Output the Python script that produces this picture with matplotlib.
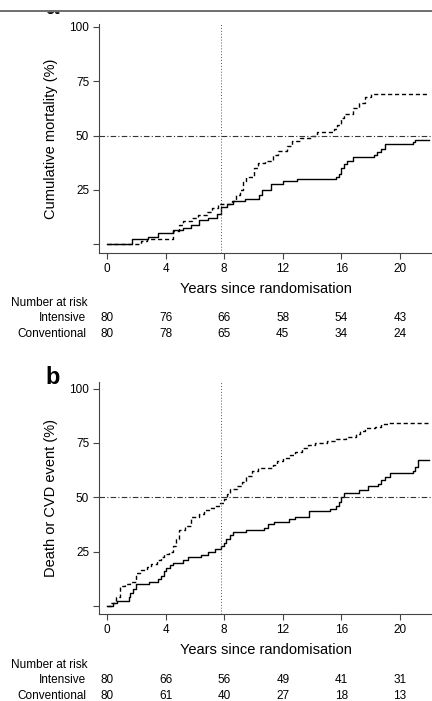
import matplotlib.pyplot as plt

plt.rcParams['font.family'] = ['Liberation Sans', 'DejaVu Sans']

# Panel a: cumulative mortality
a_int_t = [0, 1.7, 2.8, 3.5, 4.5, 5.2, 5.7, 6.3, 6.9, 7.5, 7.8, 8.2, 8.6, 9.4, 10.4, 10.6, 11.2, 12.0, 13.0,
           15.6, 15.8, 16.0, 16.2, 16.4, 16.8, 18.2, 18.4, 18.7, 19.0, 20.9, 21.0, 22.0]
a_int_y = [0, 2.5, 3.5, 5, 6.5, 7.5, 8.8, 11, 12, 14, 17, 18.5, 20, 21, 22.5, 25, 27.5, 29, 30,
           31, 32.5, 35, 37, 38.5, 40, 41, 42.5, 44, 46, 47, 48, 48]
a_con_t = [0, 2.3, 2.7, 4.5, 4.9, 5.2, 5.8, 6.2, 6.8, 7.2, 7.6, 8.5, 8.8, 9.1, 9.3, 9.5, 10.0, 10.3, 10.8,
           11.3, 11.7, 12.3, 12.6, 13.2, 14.0, 14.3, 15.5, 15.7, 16.0, 16.2, 16.8, 17.2, 17.6, 18.0, 21.9]
a_con_y = [0, 1.5, 2.5, 6, 9, 10.5, 12, 13.5, 15, 16.5, 18.5, 20, 22.5, 25, 28.5, 31, 35, 37.5, 38.5,
           41, 43, 45, 47.5, 49, 50, 51.5, 53, 55, 58, 60, 62.5, 65, 67.5, 69, 69]

# Panel b: death or CVD event
b_int_t = [0, 0.4, 0.7, 1.5, 1.6, 1.8, 2.0, 2.9, 3.5, 3.7, 3.9, 4.0, 4.3, 4.5, 5.2, 5.5, 6.4, 6.9, 7.4, 7.8,
           8.0, 8.1, 8.4, 8.6, 9.5, 10.7, 11.0, 11.4, 12.4, 12.8, 13.8, 15.2, 15.6, 15.8, 16.0, 16.2, 17.2,
           17.8, 18.5, 18.7, 19.0, 19.3, 20.9, 21.0, 21.2, 22.0]
b_int_y = [0, 1.5, 2.5, 4, 6, 8, 10, 11, 12.5, 14, 16, 17.5, 19, 20, 21, 22.5, 23.5, 25, 26, 27.5,
           29, 31, 32.5, 34, 35, 36, 37.5, 38.5, 40, 41, 43.5, 44.5, 46, 48, 50, 52, 53.5,
           55, 56, 58, 59.5, 61, 62, 64, 67, 67]
b_con_t = [0, 0.3, 0.6, 0.9, 1.2, 1.6, 2.0, 2.3, 2.7, 3.0, 3.4, 3.7, 3.9, 4.2, 4.5, 4.7, 4.9, 5.3, 5.7,
           6.3, 6.6, 7.0, 7.4, 7.7, 8.0, 8.2, 8.4, 8.9, 9.2, 9.5, 9.9, 10.3, 11.3, 11.6, 12.0, 12.5, 12.8,
           13.3, 13.7, 14.2, 15.0, 15.6, 16.3, 17.0, 17.3, 17.6, 18.3, 18.7, 19.2, 21.9]
b_con_y = [0, 1.5, 4, 9, 10, 11, 15, 16.5, 18, 19.5, 21, 22.5, 24, 25, 27.5, 31, 35, 37, 41,
           42.5, 44, 45, 46, 47.5, 49, 51.5, 54, 55, 57, 60, 62, 63.5, 65, 66.5, 68, 69.5, 71,
           72.5, 74, 75, 76, 77, 77.5, 79, 80.5, 82, 82.5, 83.5, 84, 84]

risk_years = [0, 4, 8, 12, 16, 20]
a_risk_int = [80, 76, 66, 58, 54, 43]
a_risk_con = [80, 78, 65, 45, 34, 24]
b_risk_int = [80, 66, 56, 49, 41, 31]
b_risk_con = [80, 61, 40, 27, 18, 13]

fig = plt.figure(figsize=(4.32, 7.01), dpi=100)

panels = [
    ([0.229, 0.639, 0.771, 0.327], -4.1, 101.4, 'Cumulative mortality (%)',
     a_int_t, a_int_y, a_con_t, a_con_y, a_risk_int, a_risk_con, 'a', 303, 7),
    ([0.229, 0.124, 0.771, 0.331], -3.7, 103, 'Death or CVD event (%)',
     b_int_t, b_int_y, b_con_t, b_con_y, b_risk_int, b_risk_con, 'b', 665, 377),
]

fy = lambda py: 1 - py / 701

for rect, y0, y1, ylab, it, iy, ct, cy, ri, rc, letter, risk_y, let_y in panels:
    ax = fig.add_axes(rect)
    ax.step(it, iy, where='post', color='black', lw=1.0)
    ax.step(ct, cy, where='post', color='black', lw=1.0, ls=(0, (3, 2)))
    ax.axvline(7.8, color='#555555', lw=0.7, ls=(0, (1, 2)))
    ax.axhline(50, color='#333333', lw=0.8, ls=(0, (5, 2, 1, 2)), clip_on=False)
    ax.set_xlim(-0.55, 22.18)
    ax.set_ylim(y0, y1)
    ax.set_xticks(risk_years)
    ax.set_yticks([0, 25, 50, 75, 100])
    ax.set_yticklabels(['', '25', '50', '75', '100'])
    ax.spines['top'].set_visible(False)
    ax.spines['right'].set_visible(False)
    for s in ('left', 'bottom'):
        ax.spines[s].set_color('#444444')
    ax.tick_params(labelsize=8.5, length=4, color='#444444', pad=3)
    ax.set_ylabel(ylab, fontsize=10.5, labelpad=8)
    ax.set_xlabel('Years since randomisation', fontsize=10.5, labelpad=5)
    fig.text(45 / 432, fy(let_y), letter, fontsize=17, fontweight='bold', va='center')

    fig.text(0.025, fy(risk_y), 'Number at risk', fontsize=8.5, va='center')
    fig.text(86 / 432, fy(risk_y + 15), 'Intensive', fontsize=8.5, va='center', ha='right')
    fig.text(86 / 432, fy(risk_y + 31), 'Conventional', fontsize=8.5, va='center', ha='right')
    for yr, n1, n2 in zip(risk_years, ri, rc):
        xf = (107 + yr * 14.65) / 432
        fig.text(xf, fy(risk_y + 15), str(n1), fontsize=8.5, va='center', ha='center')
        fig.text(xf, fy(risk_y + 31), str(n2), fontsize=8.5, va='center', ha='center')

# white band and rule at the top, cutting the panel letter
fig.patches.append(plt.Rectangle((0, fy(11)), 1, 1, transform=fig.transFigure, color='white', zorder=5))
fig.add_artist(plt.Line2D([0, 1], [fy(11)] * 2, color='#555555', lw=1.2, zorder=6))

fig.savefig('out.png', dpi=100)
